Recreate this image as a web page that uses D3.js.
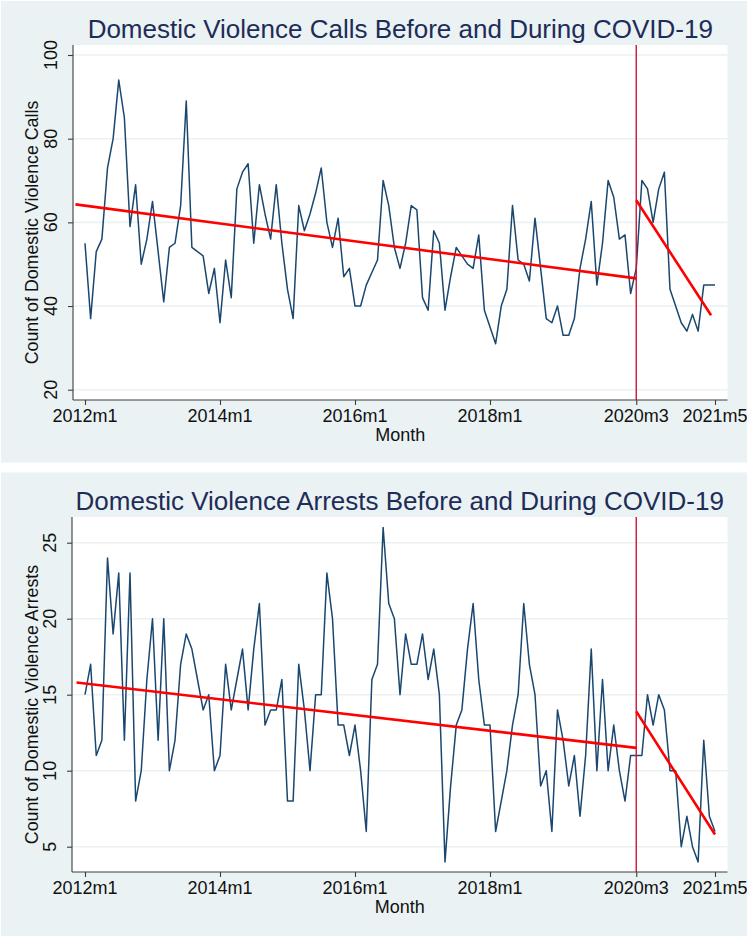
<!DOCTYPE html>
<html>
<head>
<meta charset="utf-8">
<script src="https://cdn.jsdelivr.net/npm/d3@7/dist/d3.min.js"></script>
<style>
  html, body { margin: 0; padding: 0; background: #ffffff; }
  svg { display: block; }
  text { font-family: "Liberation Sans", Arial, Helvetica, sans-serif; }
</style>
</head>
<body>
<svg id="chart" width="747" height="936"></svg>
<script>
// ---------------- DATA ----------------
const startYear = 2012;           // month index 0 = 2012m1
const tickMonths = [0, 24, 48, 72, 98, 112];
const tickLabels = ["2012m1", "2014m1", "2016m1", "2018m1", "2020m3", "2021m5"];
const covidMonth = 98;            // 2020m3

const callsValues = [
  55, 37, 53, 56, 73, 80, 94, 85, 59, 69, 50, 56,
  65, 53, 41, 54, 55, 64, 89, 54, 53, 52, 43, 49,
  36, 51, 42, 68, 72, 74, 55, 69, 62, 56, 69, 55,
  44, 37, 64, 58, 62, 67, 73, 60, 54, 61, 47, 49,
  40, 40, 45, 48, 51, 70, 64, 54, 49, 55, 64, 63,
  42, 39, 58, 55, 39, 47, 54, 52, 50, 49, 57, 39,
  35, 31, 40, 44, 64, 51, 50, 46, 61, 49, 37, 36,
  40, 33, 33, 37, 49, 56, 65, 45, 55, 70, 66, 56,
  57, 43, 49, 70, 68, 60, 68, 72, 44, 40, 36, 34,
  38, 34, 45, 45, 45
];
const arrestsValues = [
  15, 17, 11, 12, 24, 19, 23, 12, 23, 8, 10, 16,
  20, 12, 20, 10, 12, 17, 19, 18, 16, 14, 15, 10,
  11, 17, 14, 16, 18, 14, 18, 21, 13, 14, 14, 16,
  8, 8, 17, 14, 10, 15, 15, 23, 20, 13, 13, 11,
  13, 10, 6, 16, 17, 26, 21, 20, 15, 19, 17, 17,
  19, 16, 18, 15, 4, 9, 13, 14, 18, 21, 16, 13,
  13, 6, 8, 10, 13, 15, 21, 17, 15, 9, 10, 6,
  14, 12, 9, 11, 7, 11, 18, 10, 16, 10, 13, 10,
  8, 11, 11, 11, 15, 13, 15, 14, 10, 10, 5, 7,
  5, 4, 12, 7, 6
];

// linear fits: [month, value] endpoints
const callsFitPre = [[-1.7, 64.3], [98, 46.6]];
const callsFitPost = [[98, 65.3], [111.3, 37.8]];
const arrestsFitPre = [[-1.5, 15.8], [98, 11.5]];
const arrestsFitPost = [[98, 13.9], [112, 5.8]];

const callsTicks = [20, 40, 60, 80, 100];
const arrestsTicks = [5, 10, 15, 20, 25];

// ---------------- STYLE ----------------
const BG = "#eaf2f3";
const GRID = "#eaf2f3";
const NAVY = "#1a476f";
const RED = "#ff0000";
const VLINE = "#cc1836";
const TITLE = "#1e2c58";

const svg = d3.select("#chart");

function panel(cfg) {
  const g = svg.append("g");
  g.append("rect")
    .attr("x", 1).attr("y", cfg.bgTop)
    .attr("width", 746).attr("height", cfg.bgBottom - cfg.bgTop)
    .attr("fill", BG);

  const plotL = cfg.plotL, plotR = 727.5, plotT = cfg.plotT, plotB = cfg.plotB;

  g.append("rect")
    .attr("x", plotL).attr("y", plotT)
    .attr("width", plotR - plotL).attr("height", plotB - plotT)
    .attr("fill", "#ffffff");

  const x = d3.scaleLinear().domain([0, 112]).range([85, 715]);
  const y = d3.scaleLinear().domain(cfg.yDomain).range(cfg.yRange);

  g.append("g").selectAll("line").data(cfg.ticks).join("line")
    .attr("x1", plotL).attr("x2", plotR)
    .attr("y1", d => y(d)).attr("y2", d => y(d))
    .attr("stroke", GRID).attr("stroke-width", 1.6);

  const line = d3.line().x((d, i) => x(i)).y(d => y(d));
  g.append("path")
    .datum(cfg.values)
    .attr("d", line)
    .attr("fill", "none")
    .attr("stroke", NAVY)
    .attr("stroke-width", 1.5)
    .attr("stroke-linejoin", "round");

  g.append("line")
    .attr("x1", x(covidMonth)).attr("x2", x(covidMonth))
    .attr("y1", plotT).attr("y2", plotB)
    .attr("stroke", VLINE).attr("stroke-width", 1.4);

  const fl = d3.line().x(d => x(d[0])).y(d => y(d[1]));
  [cfg.fitPre, cfg.fitPost].forEach(f => {
    g.append("path").datum(f).attr("d", fl)
      .attr("fill", "none").attr("stroke", RED)
      .attr("stroke-width", 2.6);
  });

  const yAxis = d3.axisLeft(y).tickValues(cfg.ticks).tickSize(5).tickFormat("");
  const ya = g.append("g").attr("transform", `translate(${plotL},0)`).call(yAxis);
  ya.select(".domain").attr("d", `M0,${plotT}V${plotB}`).attr("stroke", "#3c3c3c").attr("stroke-width", 1.1);
  ya.selectAll(".tick line").attr("stroke", "#3c3c3c").attr("stroke-width", 1.1);
  g.append("g").selectAll("text").data(cfg.ticks).join("text")
    .attr("transform", d => `translate(${plotL - 16},${y(d)}) rotate(-90)`)
    .attr("text-anchor", "middle")
    .attr("font-size", 18)
    .attr("fill", "#111")
    .text(d => d);

  const xAxis = d3.axisBottom(x).tickValues(tickMonths).tickSize(5).tickFormat("");
  const xa = g.append("g").attr("transform", `translate(0,${plotB})`).call(xAxis);
  xa.select(".domain").attr("d", `M${plotL},0H${plotR}`).attr("stroke", "#3c3c3c").attr("stroke-width", 1.1);
  xa.selectAll(".tick line").attr("stroke", "#3c3c3c").attr("stroke-width", 1.1);
  g.append("g").selectAll("text").data(tickMonths).join("text")
    .attr("x", d => x(d))
    .attr("y", plotB + 22)
    .attr("text-anchor", "middle")
    .attr("font-size", 18)
    .attr("fill", "#111")
    .text((d, i) => tickLabels[i]);

  g.append("text")
    .attr("x", (plotL + plotR) / 2).attr("y", plotB + 40.5)
    .attr("text-anchor", "middle").attr("font-size", 18).attr("fill", "#111")
    .text("Month");
  g.append("text")
    .attr("transform", `translate(38,${(plotT + plotB) / 2 + 10}) rotate(-90)`)
    .attr("text-anchor", "middle").attr("font-size", 17.8).attr("fill", "#111")
    .text(cfg.yTitle);

  g.append("text")
    .attr("x", (plotL + plotR) / 2).attr("y", plotT - 7.5)
    .attr("text-anchor", "middle").attr("font-size", 26).attr("fill", TITLE)
    .text(cfg.title);
}

panel({
  bgTop: 1, bgBottom: 462.5,
  plotL: 73, plotT: 45, plotB: 400,
  yDomain: [20, 100], yRange: [389.7, 55],
  ticks: callsTicks, values: callsValues,
  fitPre: callsFitPre, fitPost: callsFitPost,
  yTitle: "Count of Domestic Violence Calls",
  title: "Domestic Violence Calls Before and During COVID-19"
});

panel({
  bgTop: 472.5, bgBottom: 936,
  plotL: 72, plotT: 517, plotB: 872,
  yDomain: [5, 25], yRange: [846.7, 542.7],
  ticks: arrestsTicks, values: arrestsValues,
  fitPre: arrestsFitPre, fitPost: arrestsFitPost,
  yTitle: "Count of Domestic Violence Arrests",
  title: "Domestic Violence Arrests Before and During COVID-19"
});
</script>
</body>
</html>
